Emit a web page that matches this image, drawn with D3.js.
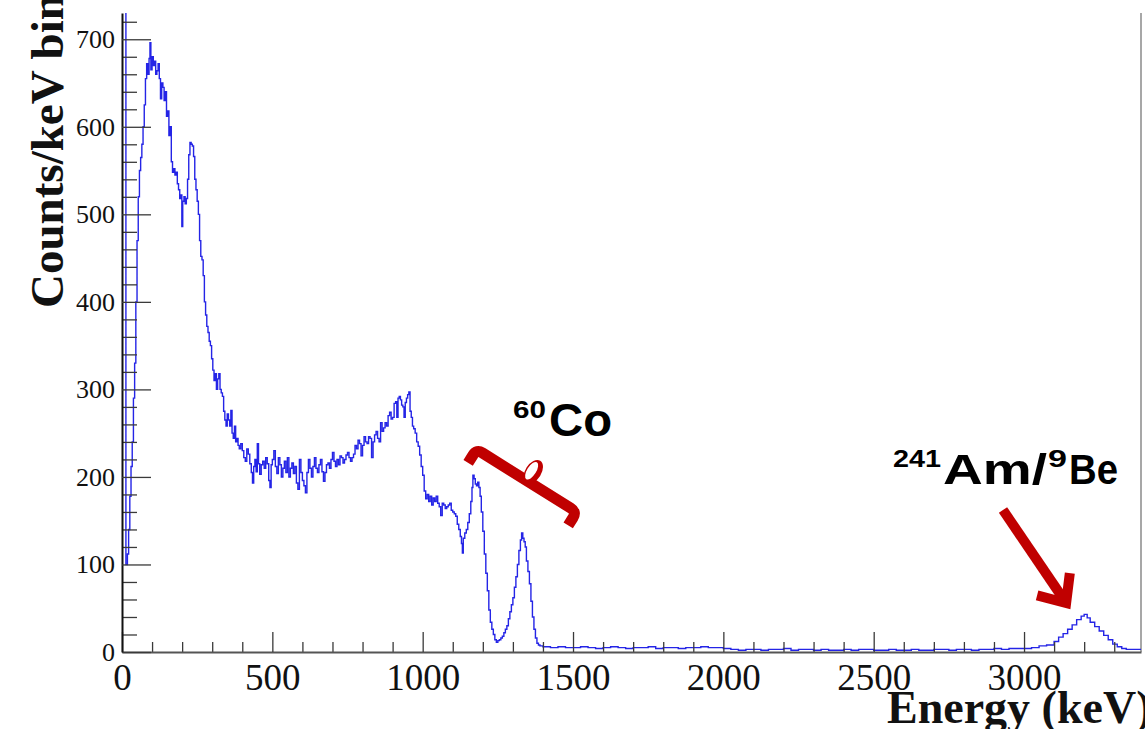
<!DOCTYPE html>
<html>
<head>
<meta charset="utf-8">
<script src="https://cdn.jsdelivr.net/npm/d3@7"></script>
<style>
  html, body { margin: 0; padding: 0; background: #ffffff; }
  svg { display: block; }
</style>
</head>
<body>
<svg id="chart" width="1145" height="729"></svg>
<script>
// ---------------- DATA ----------------
const energyKeV = [
  0,5,10,13,18,22,26,30,34,38,42,46,50,54,58,62,66,70,74,78,82,86,90,93,96,100,104,108,112,116,120,124,128,132,136,140,144,148,152,156,160,164,168,172,176,180,184,188,192,196,199,202,206,210,214,218,222,226,230,234,238,242,246,250,254,258,262,266,270,274,278,282,286,290,294,298,302,306,310,314,318,322,326,330,334,338,342,346,350,354,358,362,366,370,374,378,382,386,390,395,400,405,410,415,420,425,430,434,438,442,446,450,454,458,463,468,473,478,483,488,492,496,500,505,510,515,520,525,530,535,540,545,550,555,560,565,570,575,580,585,590,595,600,605,610,615,620,625,630,635,640,645,650,655,660,665,670,675,680,685,690,695,700,705,710,715,720,725,730,735,740,745,750,755,760,765,770,775,780,785,790,795,800,805,810,815,820,825,830,835,840,845,850,855,860,865,870,875,880,885,890,895,900,905,910,914,918,922,926,930,934,938,942,946,950,954,958,962,966,970,975,980,985,990,995,1000,1005,1010,1015,1020,1025,1030,1035,1040,1045,1050,1055,1060,1065,1070,1075,1080,1085,1090,1095,1100,1105,1110,1115,1120,1125,1129,1132,1135,1140,1145,1150,1155,1160,1164,1167,1171,1175,1179,1183,1187,1191,1195,1200,1205,1210,1215,1220,1225,1230,1235,1240,1245,1250,1255,1260,1265,1270,1275,1280,1285,1290,1295,1300,1305,1310,1315,1320,1325,1329,1333,1337,1341,1345,1350,1355,1360,1365,1370,1375,1380,1385,1390,
  1400,1425,1450,1475,1500,1525,1550,1575,1600,1625,1650,1675,1700,1725,1750,1775,1800,1825,1850,1875,1900,1925,1950,1975,2000,2025,2050,2075,2100,2125,2150,2175,2200,2225,2250,2275,2300,2325,2350,2375,2400,2425,2450,2475,2500,2525,2550,2575,2600,2625,2650,2675,2700,2725,2750,2775,2800,2825,2850,2875,2900,2925,2950,2975,3000,3025,3050,3075,3100,3115,3130,3145,3160,3175,3190,3200,3210,3220,3235,3250,3265,3280,3295,3310,3325,3340,3360,3389
];
const countsPerKeV = [
  760,760,760,100,112,140,178,212,240,290,330,400,470,520,550,565,580,600,625,655,672,660,678,696,665,680,670,675,660,664,672,655,632,650,645,630,640,612,618,590,600,560,548,552,545,548,535,528,518,522,486,515,520,512,518,540,568,582,580,578,566,540,528,515,500,470,452,448,430,400,385,372,365,355,350,335,322,310,318,300,312,318,300,296,292,275,265,258,272,265,258,276,250,244,258,240,244,236,232,238,230,222,218,232,226,215,205,193,212,220,206,238,215,203,214,218,210,222,215,196,188,214,220,230,212,204,222,214,200,210,218,205,222,200,210,216,204,212,193,186,220,205,196,190,182,205,220,210,200,212,222,210,205,214,220,206,195,205,214,216,210,220,228,218,212,220,214,224,222,216,220,225,228,222,218,222,226,236,232,242,238,224,236,246,240,238,246,244,222,240,248,252,244,240,262,252,256,262,258,270,274,266,268,284,286,268,290,292,288,282,280,268,285,290,294,297,275,268,258,255,250,240,235,225,212,202,184,175,180,172,178,168,176,172,178,170,166,156,170,168,164,166,168,170,162,160,158,155,146,140,132,124,113,130,136,140,148,158,172,188,202,198,192,190,194,188,178,160,138,112,90,70,48,34,26,20,14,11,13,14,16,18,22,26,30,38,46,54,62,74,86,100,116,128,136,130,126,120,104,92,78,58,40,26,16,10,8,7,
  6,5,6,5,5,6,5,4,5,6,5,4,5,5,6,4,5,5,4,5,5,6,5,5,4,3,2,3,3,2,3,3,4,2,3,3,2,3,2,2,3,2,3,3,2,2,3,2,2,3,2,2,3,3,2,3,3,2,3,3,4,3,4,4,4,5,7,8,12,17,21,26,31,37,41,43,39,34,29,24,19,14,9,6,4,3,3,3
];
const xMajorTicks = [0, 500, 1000, 1500, 2000, 2500, 3000];
const yMajorTicks = [0, 100, 200, 300, 400, 500, 600, 700];
const xLabel = "Energy (keV)";
const yLabel = "Counts/keV bin";
const coAnchor = { e: 1337, c: 191 };      // centre of the 60Co brace
const amAnchor = { e: 3140, c: 56 };       // arrow tip for 241Am/9Be

if (energyKeV.length !== countsPerKeV.length) {
  throw new Error("length mismatch " + energyKeV.length + " vs " + countsPerKeV.length);
}

// ---------------- LAYOUT ----------------
const svg = d3.select("#chart");
const pL = 122, pR = 1141, pT = 13, pB = 652;

const x = d3.scaleLinear().domain([0, 3389]).range([pL, pR]);
const y = d3.scaleLinear().domain([0, 730]).range([pB, pT]);

const xMinorTicks = d3.range(0, 3389, 100).filter(v => v % 500 !== 0);
const yMinorTicks = d3.range(0, 730, 20).filter(v => v % 100 !== 0);

svg.append("defs").append("clipPath").attr("id", "plotclip")
  .append("rect").attr("x", pL).attr("y", pT).attr("width", pR - pL).attr("height", pB - pT + 1);

// right frame
svg.append("line").attr("x1", pR).attr("x2", pR).attr("y1", pT).attr("y2", pB)
  .attr("stroke", "#8a8a8a").attr("stroke-width", 1.5);

// spectrum
const data = energyKeV.map((e, i) => ({ e, c: countsPerKeV[i] }));
const line = d3.line().x(d => x(d.e)).y(d => y(d.c)).curve(d3.curveStepAfter);
svg.append("path").datum(data)
  .attr("clip-path", "url(#plotclip)")
  .attr("d", line)
  .attr("fill", "none")
  .attr("stroke", "#2424e6")
  .attr("stroke-width", 1.4)
  .attr("stroke-linejoin", "miter");

// axes
const tickColor = "#3a3a3a";
const serif = "'Liberation Serif','Times New Roman',serif";
const fmt = d3.format("d");

const xMinor = svg.append("g").attr("transform", `translate(0,${pB})`)
  .call(d3.axisBottom(x).tickValues(xMinorTicks).tickSize(-10).tickFormat(""));
const xAxis = svg.append("g").attr("transform", `translate(0,${pB})`)
  .call(d3.axisBottom(x).tickValues(xMajorTicks).tickFormat(fmt).tickSize(-20).tickSizeOuter(0).tickPadding(12));

const yMinor = svg.append("g").attr("transform", `translate(${pL},0)`)
  .call(d3.axisLeft(y).tickValues(yMinorTicks).tickSize(-15).tickFormat(""));
const yAxis = svg.append("g").attr("transform", `translate(${pL},0)`)
  .call(d3.axisLeft(y).tickValues(yMajorTicks).tickFormat(fmt).tickSize(-29).tickSizeOuter(0).tickPadding(7));

[xMinor, yMinor].forEach(g => g.select(".domain").remove());
[xMinor, yMinor, xAxis, yAxis].forEach(g => g.selectAll(".tick line").attr("stroke", tickColor).attr("stroke-width", 1.3));
xAxis.select(".domain").attr("stroke", "#555").attr("stroke-width", 2);
yAxis.select(".domain").attr("stroke", "#111").attr("stroke-width", 2);
xAxis.selectAll(".tick text").attr("font-family", serif).attr("font-size", 37).attr("fill", "#111");
yAxis.selectAll(".tick text").attr("font-family", serif).attr("font-size", 26).attr("fill", "#111");

// axis titles
svg.append("text")
  .attr("transform", `translate(63,308) rotate(-90)`)
  .attr("font-family", serif).attr("font-weight", "bold").attr("font-size", 47)
  .attr("fill", "#111").text(yLabel);
svg.append("text")
  .attr("x", 887).attr("y", 723)
  .attr("font-family", serif).attr("font-weight", "bold").attr("font-size", 46)
  .attr("fill", "#111").text(xLabel);

// ---------------- ANNOTATIONS ----------------
const red = "#c00000";
const sans = "'Liberation Sans',Arial,sans-serif";

// 60Co brace
{
  const cx = x(coAnchor.e), cy = y(coAnchor.c);
  const g = svg.append("g").attr("transform", `translate(${cx},${cy}) rotate(32)`);
  const half = 59, hook = 11;
  g.append("path")
    .attr("d", `M${-half},${hook} L${-half},2 Q${-half},-5 ${-half + 7},-5 L${half - 7},-5 Q${half},-5 ${half},2 L${half},${hook}`)
    .attr("fill", "none").attr("stroke", red).attr("stroke-width", 11).attr("stroke-linejoin", "round");
  g.append("ellipse").attr("cx", 1).attr("cy", -16).attr("rx", 8).attr("ry", 13).attr("fill", red);
  g.append("ellipse").attr("cx", -1).attr("cy", -16).attr("rx", 4.5).attr("ry", 10).attr("fill", "#ffffff");
}
svg.append("text").attr("x", 513).attr("y", 418)
  .attr("font-family", sans).attr("font-weight", "bold").attr("font-size", 24)
  .attr("textLength", 33).attr("lengthAdjust", "spacingAndGlyphs").text("60");
svg.append("text").attr("x", 549).attr("y", 436)
  .attr("font-family", sans).attr("font-weight", "bold").attr("font-size", 46)
  .attr("textLength", 63).attr("lengthAdjust", "spacingAndGlyphs").text("Co");

// 241Am/9Be arrow
{
  const tx = x(amAnchor.e), ty = y(amAnchor.c);
  const sx = 1003, sy = 510;
  const ang = Math.atan2(ty - sy, tx - sx);
  const len = 30, spread = 0.72;
  svg.append("line").attr("x1", sx).attr("y1", sy).attr("x2", tx - 4 * Math.cos(ang)).attr("y2", ty - 4 * Math.sin(ang))
    .attr("stroke", red).attr("stroke-width", 10);
  const a1 = [tx - len * Math.cos(ang - spread), ty - len * Math.sin(ang - spread)];
  const a2 = [tx - len * Math.cos(ang + spread), ty - len * Math.sin(ang + spread)];
  svg.append("path").attr("d", `M${a1[0]},${a1[1]} L${tx},${ty} L${a2[0]},${a2[1]}`)
    .attr("fill", "none").attr("stroke", red).attr("stroke-width", 10).attr("stroke-linejoin", "miter");
}
svg.append("text").attr("x", 893).attr("y", 467)
  .attr("font-family", sans).attr("font-weight", "bold").attr("font-size", 24)
  .attr("textLength", 48).attr("lengthAdjust", "spacingAndGlyphs").text("241");
svg.append("text").attr("x", 943).attr("y", 484)
  .attr("font-family", sans).attr("font-weight", "bold").attr("font-size", 43)
  .attr("textLength", 104).attr("lengthAdjust", "spacingAndGlyphs").text("Am/");
svg.append("text").attr("x", 1048).attr("y", 467)
  .attr("font-family", sans).attr("font-weight", "bold").attr("font-size", 24)
  .attr("textLength", 19).attr("lengthAdjust", "spacingAndGlyphs").text("9");
svg.append("text").attr("x", 1069).attr("y", 484)
  .attr("font-family", sans).attr("font-weight", "bold").attr("font-size", 43)
  .attr("textLength", 49).attr("lengthAdjust", "spacingAndGlyphs").text("Be");
</script>
</body>
</html>
